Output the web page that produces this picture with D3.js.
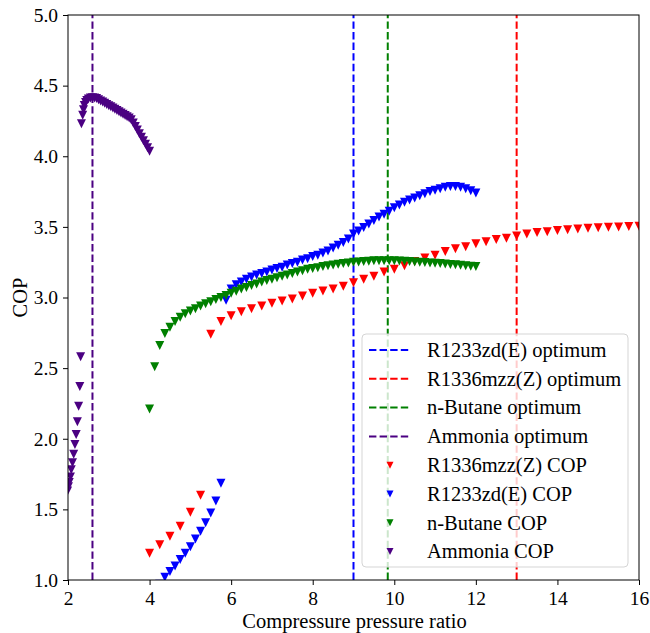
<!DOCTYPE html>
<html><head><meta charset="utf-8">
<script src="https://cdn.jsdelivr.net/npm/d3@7"></script>
<style>
body{margin:0;background:#fff}
svg{display:block}
</style>
</head><body>
<svg id="chart" width="650" height="633"></svg>
<script>
// ---- data ----
const xTicks = [2, 4, 6, 8, 10, 12, 14, 16];
const yTicks = [1.0, 1.5, 2.0, 2.5, 3.0, 3.5, 4.0, 4.5, 5.0];

const optimumNames = ["R1233zd(E) optimum", "R1336mzz(Z) optimum", "n-Butane optimum", "Ammonia optimum"];
const optimumX = [9.0, 13.0, 9.84, 2.6];
const optimumColors = ["#0000ff", "#ff0000", "#008000", "#4b0082"];

const copNames = ["R1336mzz(Z) COP", "R1233zd(E) COP", "n-Butane COP", "Ammonia COP"];
const copColors = ["#ff0000", "#0000ff", "#008000", "#4b0082"];

const r1336X = [4.0, 4.25, 4.5, 4.75, 5.0, 5.25,
  5.5, 5.75, 6.0, 6.25, 6.5, 6.75, 7.0, 7.25, 7.5, 7.75, 8.0, 8.25, 8.5, 8.75, 9.0, 9.25, 9.5, 9.75,
  10.0, 10.25, 10.5, 10.75, 11.0, 11.25, 11.5, 11.75, 12.0, 12.25, 12.5, 12.75, 13.0, 13.25, 13.5, 13.75,
  14.0, 14.25, 14.5, 14.75, 15.0, 15.25, 15.5, 15.75, 16.0];
const r1336Y = [1.19, 1.25, 1.31, 1.38, 1.48, 1.60,
  2.74, 2.83, 2.87, 2.90, 2.92, 2.94, 2.96, 2.975, 2.99, 3.01, 3.03, 3.046, 3.06, 3.08, 3.105, 3.13, 3.15, 3.18,
  3.20, 3.225, 3.255, 3.28, 3.30, 3.325, 3.345, 3.36, 3.38, 3.395, 3.41, 3.42, 3.435, 3.45, 3.46, 3.465,
  3.475, 3.48, 3.485, 3.49, 3.493, 3.497, 3.50, 3.502, 3.505];

const r1233X = [4.25, 4.375, 4.5, 4.625, 4.75, 4.875, 5.0, 5.125, 5.25, 5.375, 5.5, 5.625, 5.75,
  5.875, 6.0, 6.125, 6.25, 6.375, 6.5, 6.625, 6.75, 6.875, 7.0, 7.125, 7.25, 7.375, 7.5, 7.625, 7.75, 7.875,
  8.0, 8.125, 8.25, 8.375, 8.5, 8.625, 8.75, 8.875, 9.0, 9.125, 9.25, 9.375, 9.5, 9.625, 9.75, 9.875,
  10.0, 10.125, 10.25, 10.375, 10.5, 10.625, 10.75, 10.875, 11.0, 11.125, 11.25, 11.375, 11.5, 11.625, 11.75, 11.875, 12.0];
const r1233Y = [0.97, 1.02, 1.06, 1.10, 1.145, 1.19, 1.235, 1.29, 1.345, 1.405, 1.475, 1.56, 1.685,
  2.98, 3.06, 3.09, 3.11, 3.13, 3.145, 3.16, 3.17, 3.18, 3.195, 3.205, 3.215, 3.23, 3.24, 3.25, 3.265, 3.275,
  3.29, 3.30, 3.315, 3.33, 3.35, 3.37, 3.39, 3.415, 3.45, 3.47, 3.495, 3.52, 3.545, 3.57, 3.59, 3.61,
  3.635, 3.655, 3.675, 3.69, 3.705, 3.72, 3.735, 3.75, 3.76, 3.77, 3.78, 3.785, 3.785, 3.78, 3.77, 3.755, 3.74];

const butaneX = [4.0, 4.125, 4.25, 4.375, 4.5, 4.625, 4.75, 4.875, 5.0, 5.125, 5.25, 5.375, 5.5, 5.625, 5.75, 5.875,
  6.0, 6.125, 6.25, 6.375, 6.5, 6.625, 6.75, 6.875, 7.0, 7.125, 7.25, 7.375, 7.5, 7.625, 7.75, 7.875,
  8.0, 8.125, 8.25, 8.375, 8.5, 8.625, 8.75, 8.875, 9.0, 9.125, 9.25, 9.375, 9.5, 9.625, 9.75, 9.875,
  10.0, 10.125, 10.25, 10.375, 10.5, 10.625, 10.75, 10.875, 11.0, 11.125, 11.25, 11.375, 11.5, 11.625, 11.75, 11.875, 12.0];
const butaneY = [2.21, 2.51, 2.66, 2.745, 2.79, 2.83, 2.86, 2.885, 2.905, 2.92, 2.94, 2.955, 2.97, 2.985, 3.00, 3.015,
  3.03, 3.045, 3.06, 3.07, 3.085, 3.095, 3.11, 3.12, 3.13, 3.14, 3.15, 3.16, 3.17, 3.18, 3.19, 3.20,
  3.205, 3.21, 3.22, 3.225, 3.23, 3.235, 3.24, 3.245, 3.25, 3.252, 3.255, 3.257, 3.26, 3.26, 3.26, 3.26,
  3.26, 3.258, 3.256, 3.254, 3.252, 3.25, 3.248, 3.245, 3.242, 3.24, 3.237, 3.234, 3.231, 3.228, 3.225, 3.222, 3.22];

const ammoniaX = [1.99, 2.01, 2.03, 2.06, 2.08, 2.11, 2.14, 2.17, 2.20, 2.23, 2.26, 2.29, 2.31,
  2.33, 2.36, 2.38, 2.40, 2.43, 2.46, 2.50, 2.55, 2.60, 2.65, 2.70, 2.75, 2.80, 2.85, 2.90, 2.95,
  3.00, 3.05, 3.10, 3.15, 3.20, 3.25, 3.30, 3.35, 3.40, 3.45, 3.50, 3.55, 3.60, 3.65, 3.70, 3.75,
  3.80, 3.85, 3.90, 3.95, 4.00];
const ammoniaY = [1.63, 1.66, 1.69, 1.73, 1.78, 1.83, 1.89, 1.96, 2.03, 2.12, 2.23, 2.37, 2.58,
  4.23, 4.29, 4.33, 4.36, 4.38, 4.395, 4.405, 4.412, 4.415, 4.413, 4.408, 4.400, 4.392, 4.384, 4.375, 4.367,
  4.358, 4.350, 4.341, 4.333, 4.324, 4.315, 4.306, 4.297, 4.288, 4.279, 4.270, 4.258, 4.235, 4.21, 4.185, 4.16,
  4.135, 4.11, 4.085, 4.06, 4.035];

// ---- chart ----
const FONT = '"Liberation Serif","DejaVu Serif","Noto Serif",serif';
const svg = d3.select("#chart").style("font-family", FONT);
const L = 68, R = 639, T = 15, B = 580;
const x = d3.scaleLinear().domain([2, 16]).range([L, R]);
const y = d3.scaleLinear().domain([1, 5]).range([B, T]);

svg.append("defs").append("clipPath").attr("id", "clip")
  .append("rect").attr("x", L).attr("y", T).attr("width", R - L).attr("height", B - T);

const plot = svg.append("g").attr("clip-path", "url(#clip)");

optimumX.forEach((v, i) => {
  plot.append("line")
    .attr("x1", x(v)).attr("x2", x(v)).attr("y1", y(1)).attr("y2", y(5))
    .attr("stroke", optimumColors[i]).attr("stroke-width", 2)
    .attr("stroke-dasharray", "7.4,3.2");
});

const tri = s => `M0,${s} L${-s},${-s} L${s},${-s} Z`;
const series = [
  [r1336X, r1336Y], [r1233X, r1233Y], [butaneX, butaneY], [ammoniaX, ammoniaY]
];
series.forEach(([xs, ys], i) => {
  const pts = xs.map((v, k) => [v, ys[k]]);
  plot.append("g").selectAll("path").data(pts).join("path")
    .attr("d", tri(4.5))
    .attr("transform", d => `translate(${x(d[0])},${y(d[1])})`)
    .attr("fill", copColors[i]);
});

const xAxis = d3.axisBottom(x).tickValues(xTicks).tickSize(5).tickSizeOuter(0).tickPadding(6)
  .tickFormat(d3.format("d"));
const yAxis = d3.axisLeft(y).tickValues(yTicks).tickSize(5).tickSizeOuter(0).tickPadding(5)
  .tickFormat(d3.format(".1f"));
const gx = svg.append("g").attr("transform", `translate(0,${B})`).call(xAxis);
const gy = svg.append("g").attr("transform", `translate(${L},0)`).call(yAxis);
[gx, gy].forEach(g => {
  g.attr("font-family", FONT).attr("font-size", 19.5);
  g.select(".domain").remove();
  g.selectAll("line").attr("stroke", "#000").attr("stroke-width", 1);
  g.selectAll("text").attr("fill", "#000");
});

svg.append("rect").attr("x", L).attr("y", T).attr("width", R - L).attr("height", B - T)
  .attr("fill", "none").attr("stroke", "#000").attr("stroke-width", 1);

svg.append("text").attr("x", (L + R) / 2 + 1).attr("y", 628).attr("text-anchor", "middle")
  .attr("font-family", FONT).attr("font-size", 20.5).text("Compressure pressure ratio");
svg.append("text").attr("transform", `translate(27,${(T + B) / 2}) rotate(-90)`)
  .attr("font-family", FONT).attr("text-anchor", "middle").attr("font-size", 20.5).text("COP");

const lg = svg.append("g").attr("font-family", FONT);
lg.append("rect").attr("x", 362).attr("y", 334).attr("width", 266).attr("height", 233)
  .attr("rx", 4).attr("fill", "#fff").attr("fill-opacity", 0.8)
  .attr("stroke", "#d5d5d5").attr("stroke-width", 1);
const rowY = k => 350 + k * 28.8;
optimumNames.forEach((n, k) => {
  lg.append("line").attr("x1", 369).attr("x2", 410).attr("y1", rowY(k)).attr("y2", rowY(k))
    .attr("stroke", optimumColors[k]).attr("stroke-width", 2).attr("stroke-dasharray", "7.4,3.2");
  lg.append("text").attr("x", 427).attr("y", rowY(k) + 6.8).attr("font-size", 20.5).text(n);
});
copNames.forEach((n, j) => {
  const k = j + 4;
  lg.append("path").attr("d", tri(3.5)).attr("transform", `translate(390,${rowY(k)})`).attr("fill", copColors[j]);
  lg.append("text").attr("x", 427).attr("y", rowY(k) + 6.8).attr("font-size", 20.5).text(n);
});
</script>
</body></html>
